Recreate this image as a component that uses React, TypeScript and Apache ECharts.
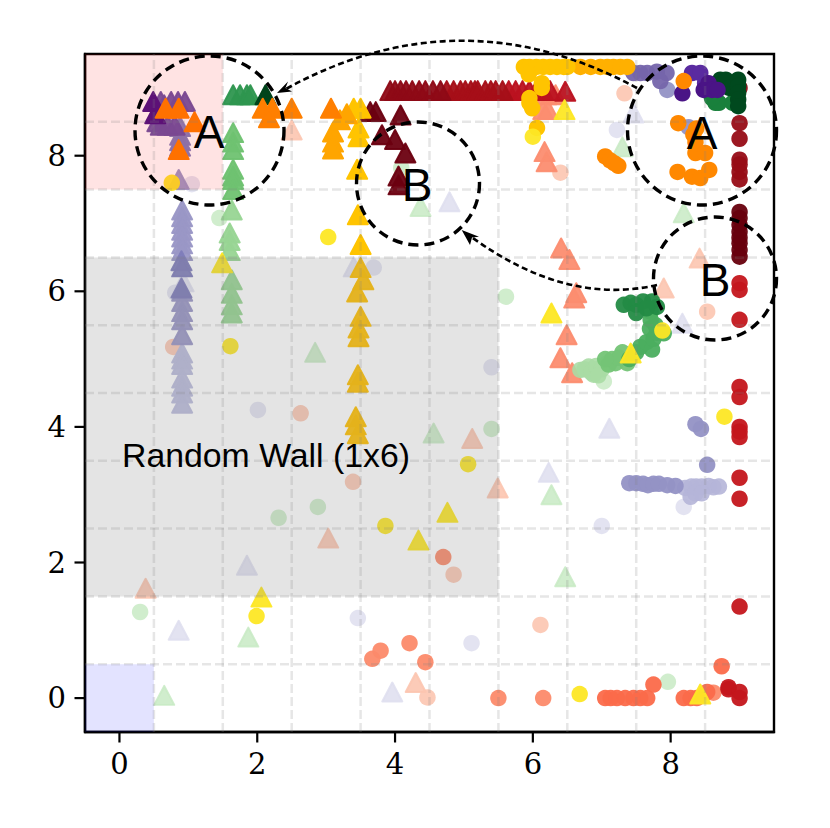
import React, { useEffect, useRef } from "react";
import * as echarts from "echarts";

type P = number[][];

const xTicks = [0, 2, 4, 6, 8];
const yTicks = [0, 2, 4, 6, 8];
const gridValues = [0.5, 1.5, 2.5, 3.5, 4.5, 5.5, 6.5, 7.5, 8.5];

const regionRandomWall = [-0.5, 1.5, 5.5, 6.5];
const regionPink = [-0.5, 7.5, 1.5, 9.5];
const regionBlue = [-0.5, -0.5, 0.5, 0.5];

// Triangles
const triPaleLavender: P = [[7.46, 8.63], [4.79, 7.32], [8.17, 5.53], [7.11, 3.98], [6.23, 3.33], [1.85, 1.96], [0.86, 1.0], [3.96, 0.09], [3.4, 6.36], [0.93, 6.14]];
const triPaleGreen: P = [[4.37, 7.25], [7.3, 8.13], [8.19, 7.16], [6.27, 3.0], [4.56, 3.91], [2.84, 5.1], [6.47, 1.79], [1.87, 0.9], [0.65, 0.04]];
const triPeach: P = [[2.5, 8.38], [7.9, 6.05], [8.42, 6.49], [5.12, 3.83], [5.49, 3.1], [3.03, 2.36], [0.38, 1.62], [4.3, 0.23]];
const triPurpleLight: P = [[0.91, 5.09], [0.91, 5.0], [0.91, 4.92], [0.91, 4.72], [0.91, 4.6], [0.91, 4.5], [0.91, 4.35]];
const triPurpleMid: P = [[0.86, 7.65], [0.91, 7.2], [0.91, 7.1], [0.91, 7.0], [0.91, 6.9], [0.91, 6.8], [0.91, 6.7], [0.91, 6.6], [0.91, 6.0], [0.91, 5.85], [0.91, 5.7], [0.91, 5.58], [0.91, 5.36]];
const triPurpleDeep: P = [[0.9, 6.45], [0.91, 6.36], [0.88, 8.43], [0.88, 8.3], [0.88, 8.22], [0.88, 8.14], [0.9, 6.05]];
const triPurpleTop: P = [[0.6, 8.8], [0.65, 8.75], [0.75, 8.8], [0.85, 8.8], [0.95, 8.8], [0.55, 8.5], [0.6, 8.45], [0.7, 8.45], [0.8, 8.45]];
const triPurpleDark: P = [[0.49, 8.8], [0.52, 8.62]];
const triGreenLight: P = [[1.6, 6.86], [1.6, 6.75], [1.6, 6.6], [1.63, 6.17], [1.63, 5.97], [1.63, 5.8], [1.63, 5.68], [1.63, 7.2]];
const triGreenMid: P = [[1.65, 7.8], [1.65, 7.7], [1.65, 7.65], [1.65, 7.5], [1.65, 8.34], [1.65, 8.2], [1.65, 8.09]];
const triGreenTop: P = [[1.65, 8.9], [1.75, 8.9], [1.85, 8.9], [1.9, 8.9]];
const triGreenDark: P = [[2.12, 8.9]];
const triRowDark: P = [[3.93, 8.96], [4.0, 8.96], [4.08, 8.96], [4.16, 8.96], [4.25, 8.96], [4.35, 8.96], [4.44, 8.96], [4.55, 8.96], [4.66, 8.96]];
const triRowMid: P = [[4.75, 8.96], [4.85, 8.96], [4.95, 8.96], [5.02, 8.96], [5.1, 8.96], [5.16, 8.96], [5.2, 8.96], [5.31, 8.96], [5.39, 8.96], [5.46, 8.96], [5.56, 8.96]];
const triRowRed: P = [[5.65, 8.96], [5.75, 8.96], [5.85, 8.96], [5.95, 8.96], [6.05, 8.96], [6.15, 8.96], [6.25, 8.96], [6.47, 8.95]];
const triMaroon: P = [[3.64, 8.65], [3.72, 8.65], [4.08, 8.6], [3.81, 8.31], [4.0, 8.24], [4.15, 8.04], [4.05, 7.7], [4.05, 7.57]];
const triSalmon: P = [[6.2, 8.9], [6.33, 8.9], [6.15, 8.68], [6.22, 8.68], [6.17, 8.06], [6.2, 7.91], [6.41, 6.64], [6.53, 6.47], [6.63, 5.98], [6.6, 5.9], [6.49, 5.36], [6.4, 5.02], [6.57, 4.8]];
const triGoldLow: P = [[3.43, 4.15], [3.43, 4.03], [3.46, 4.77], [3.46, 4.66], [3.5, 5.63], [3.47, 5.46], [3.47, 5.33], [3.45, 5.99], [3.54, 6.17], [3.5, 6.35], [3.46, 3.9]];
const triGold: P = [[3.5, 6.69], [3.46, 7.13], [3.45, 7.8], [3.47, 8.41], [3.47, 8.28], [3.4, 8.7], [3.5, 8.7]];
const triAmber: P = [[3.1, 8.35], [3.1, 8.2], [3.1, 8.1], [3.2, 8.53], [3.3, 8.62]];
const triOrange: P = [[0.67, 8.7], [0.86, 8.7], [1.09, 8.5], [0.86, 8.09], [2.08, 8.7], [2.22, 8.7], [2.17, 8.56], [2.5, 8.7], [3.07, 8.7]];
const triYellow: P = [[1.49, 6.42], [4.76, 2.74], [4.34, 2.33], [2.06, 1.49], [6.27, 5.68], [7.42, 5.09], [8.43, 0.06], [6.46, 8.68]];

// Circles
const dotPaleLavender: P = [[1.05, 7.58], [7.22, 8.38], [3.69, 6.35], [0.81, 5.98], [2.01, 4.25], [5.4, 4.88], [3.46, 1.18], [5.11, 0.81], [7.0, 2.54], [8.19, 2.82]];
const dotPaleGreen: P = [[5.61, 5.92], [5.4, 3.97], [2.88, 2.82], [2.31, 2.66], [0.3, 1.27], [1.45, 7.08], [4.09, 7.82], [7.96, 0.24], [7.03, 4.67]];
const dotPeach: P = [[7.33, 8.92], [6.4, 7.75], [8.53, 5.7], [0.78, 5.18], [2.63, 4.2], [3.39, 3.19], [4.85, 1.82], [4.47, 0.01], [6.11, 1.08]];
const dotSalmon: P = [[3.67, 0.58], [3.79, 0.7], [4.21, 0.81], [4.44, 0.53], [4.7, 2.08], [5.5, 0], [6.15, 0], [8.62, 0.08]];
const dotCoral: P = [[7.05, 0], [7.13, 0], [7.22, 0], [7.34, 0], [7.46, 0], [7.56, 0], [7.66, 0], [7.75, 0.2], [8.19, 0], [8.29, 0], [8.38, 0], [8.53, 0.09], [8.74, 0.47]];
const dotLavenderLight: P = [[8.21, 3.1], [8.3, 3.12], [8.37, 3.12], [8.45, 3.12], [8.55, 3.13], [8.62, 3.11], [8.7, 3.12], [8.29, 2.97], [8.36, 3.02], [8.45, 3.02]];
const dotLavender: P = [[7.4, 3.17], [7.5, 3.17], [7.6, 3.16], [7.67, 3.14], [7.75, 3.16], [7.83, 3.16], [7.95, 3.14], [8.07, 3.13], [8.36, 4.04], [8.44, 3.97], [8.53, 3.44], [7.95, 8.97], [8.26, 8.42]];
const dotRed: P = [[9, 6.12], [9, 6.02], [9, 5.58], [9, 4.59], [9, 4.44], [9, 4.0], [9, 3.93], [9, 3.85], [9, 3.25], [9, 2.94], [9, 1.35], [8.84, 0.16], [8.84, 0.13], [9, 0.09], [9, 0]];
const dotDarkRed: P = [[9, 9.0], [9, 8.48], [9, 8.25], [9, 7.94], [9, 7.87], [9, 7.76], [9, 7.65]];
const dotMaroon: P = [[9, 7.17], [9, 7.08], [9, 6.98], [9, 6.88], [9, 6.79], [9, 6.71], [9, 6.61], [9, 6.51]];
const dotGreenPale: P = [[7.08, 4.94], [6.96, 4.86], [6.81, 4.89], [6.69, 4.84], [6.88, 4.77], [6.75, 4.85], [6.85, 4.8], [6.92, 4.9], [7.0, 4.85], [6.95, 4.76]];
const dotGreenLight: P = [[7.37, 4.94], [7.3, 5.1], [7.2, 4.94], [7.15, 5.0], [7.1, 4.92], [7.25, 5.02], [7.05, 5.0]];
const dotGreenMid: P = [[7.4, 5.0], [7.5, 5.1], [7.56, 5.18], [7.65, 5.25], [7.73, 5.14], [7.75, 5.3], [7.8, 5.39], [7.9, 5.38], [7.7, 5.45], [7.78, 5.5], [7.71, 5.58], [7.71, 5.7]];
const dotGreen: P = [[7.32, 5.8], [7.42, 5.83], [7.5, 5.8], [7.6, 5.85], [7.73, 5.85], [7.8, 5.77], [7.5, 5.68], [7.65, 5.75]];
const dotGreenTop: P = [[8.65, 8.78], [8.7, 8.78], [8.9, 8.78], [8.55, 9.0], [8.6, 8.85]];
const dotGreenDark: P = [[8.72, 9.12], [8.8, 9.12], [8.85, 9.0], [8.98, 9.12], [8.98, 9.03], [8.98, 8.93], [8.98, 8.83], [8.98, 8.73]];
const dotPurpleSoft: P = [[7.46, 9.22], [7.56, 9.22], [7.66, 9.22], [7.8, 9.24], [7.94, 9.22], [7.85, 9.1]];
const dotPurple: P = [[8.31, 9.22], [8.43, 9.22], [8.5, 9.07]];
const dotPurpleDark: P = [[8.17, 8.92], [8.48, 8.97], [8.55, 9.07], [8.6, 8.97], [8.68, 8.97]];
const dotOrange: P = [[8.19, 9.1], [8.11, 8.48], [8.33, 8.31], [8.37, 8.4], [8.36, 8.2], [8.36, 8.04], [8.5, 8.04], [8.1, 7.76], [8.31, 7.69], [8.43, 7.67], [8.56, 7.79], [7.05, 7.99], [7.12, 7.93], [7.18, 7.89], [7.24, 7.85]];
const dotAmber: P = [[6.69, 9.31], [6.84, 9.31], [6.98, 9.31], [7.08, 9.31], [7.17, 9.31], [7.27, 9.31], [7.37, 9.31]];
const dotGold: P = [[5.87, 9.31], [5.95, 9.31], [6.05, 9.31], [6.15, 9.31], [6.25, 9.31], [6.35, 9.31], [6.45, 9.31], [6.5, 9.31], [5.94, 9.2], [6.13, 9.07], [6.13, 9.0], [5.95, 8.85], [5.99, 8.7], [5.95, 8.78], [6.06, 8.41]];
const dotYellow: P = [[6.0, 8.28], [3.03, 6.8], [0.76, 7.6], [1.61, 5.19], [3.86, 2.54], [5.06, 3.45], [7.88, 5.42], [8.78, 4.15], [1.99, 1.21], [6.68, 0.06]];

const labelA = "A";
const labelB = "B";
const labelWall = "Random Wall (1x6)";

const layers: [P, string, string, number][] = [
  [triPaleLavender, "triangle", "#dedeef", 0.85],
  [dotPaleLavender, "circle", "#dedeef", 0.85],
  [triPaleGreen, "triangle", "#c8eac4", 0.85],
  [dotPaleGreen, "circle", "#c8eac4", 0.85],
  [triPeach, "triangle", "#fcc5b0", 0.9],
  [dotPeach, "circle", "#fcc5b0", 0.9],
  [triPurpleLight, "triangle", "#bcbddc", 0.95],
  [triPurpleMid, "triangle", "#9a97c6", 0.95],
  [triPurpleDeep, "triangle", "#807dba", 0.95],
  [triPurpleTop, "triangle", "#6a51a3", 0.95],
  [triPurpleDark, "triangle", "#4a1486", 1],
  [triGreenLight, "triangle", "#98d594", 0.95],
  [triGreenMid, "triangle", "#6fc271", 0.95],
  [triGreenTop, "triangle", "#2e964f", 0.95],
  [triGreenDark, "triangle", "#00441b", 1],
  [triSalmon, "triangle", "#fc8d70", 0.95],
  [triRowRed, "triangle", "#bb1220", 0.95],
  [triRowMid, "triangle", "#a50f18", 0.95],
  [triRowDark, "triangle", "#8e0a16", 0.95],
  [triMaroon, "triangle", "#6b0010", 0.95],
  [dotSalmon, "circle", "#fc8a6a", 0.95],
  [dotCoral, "circle", "#fb6a4a", 0.95],
  [dotLavenderLight, "circle", "#b5b5d8", 0.9],
  [dotLavender, "circle", "#9492c5", 0.95],
  [dotRed, "circle", "#c4161c", 0.95],
  [dotDarkRed, "circle", "#970c16", 0.95],
  [dotMaroon, "circle", "#67000d", 0.95],
  [dotGreenPale, "circle", "#a8dca4", 0.9],
  [dotGreenLight, "circle", "#74c476", 0.95],
  [dotGreenMid, "circle", "#4bae5f", 0.95],
  [dotGreen, "circle", "#238b45", 0.95],
  [dotGreenTop, "circle", "#19803c", 1],
  [dotGreenDark, "circle", "#00491e", 1],
  [dotPurpleSoft, "circle", "#7565ab", 0.95],
  [dotPurple, "circle", "#5a2ba0", 1],
  [dotPurpleDark, "circle", "#4a1486", 1],
  [triGoldLow, "triangle", "#ffc000", 0.95],
  [triGold, "triangle", "#ffc400", 1],
  [triAmber, "triangle", "#ffa500", 1],
  [triOrange, "triangle", "#ff7f00", 1],
  [dotOrange, "circle", "#ff8800", 1],
  [dotAmber, "circle", "#ffb000", 1],
  [dotGold, "circle", "#ffc400", 1],
  [dotYellow, "circle", "#fde725", 0.95],
  [triYellow, "triangle", "#fde725", 0.95],
];

function rectSeries(box: number[], color: string) {
  return {
    type: "custom",
    z: 5,
    silent: true,
    clip: false,
    data: [box],
    encode: { x: [0, 2], y: [1, 3] },
    renderItem: (_: any, api: any) => {
      const a = api.coord([api.value(0), api.value(1)]);
      const b = api.coord([api.value(2), api.value(3)]);
      return {
        type: "rect",
        shape: { x: a[0], y: b[1], width: b[0] - a[0], height: a[1] - b[1] },
        style: { fill: color },
      };
    },
  };
}

function gridSeries(vertical: boolean) {
  return {
    type: "custom",
    z: 6,
    silent: true,
    clip: false,
    data: gridValues.map((v) => [v]),
    encode: vertical ? { x: 0 } : { y: 0 },
    renderItem: (_: any, api: any) => {
      const v = api.value(0);
      const a = vertical ? api.coord([v, -0.5]) : api.coord([-0.5, v]);
      const b = vertical ? api.coord([v, 9.5]) : api.coord([9.5, v]);
      return {
        type: "line",
        shape: { x1: a[0], y1: a[1], x2: b[0], y2: b[1] },
        style: { stroke: "rgba(128,128,128,0.2)", lineWidth: 2.5, lineDash: [9, 4] },
      };
    },
  };
}

const dashStyle = { stroke: "#000", fill: "none", lineWidth: 3.4, lineDash: [10, 6] };
const thinDash = { stroke: "#000", fill: "none", lineWidth: 2.6, lineDash: [6, 3.5] };

function letter(text: string, x: number, y: number) {
  return {
    type: "text",
    x,
    y,
    z: 30,
    style: { text, fill: "#000", font: "46px 'Liberation Sans'", textAlign: "center", textVerticalAlign: "middle" },
  };
}

export default function App() {
  const ref = useRef<HTMLDivElement>(null);
  useEffect(() => {
    const chart = echarts.init(ref.current!, undefined, { renderer: "svg", width: 830, height: 828 });
    const axisCommon = {
      type: "value",
      min: -0.5,
      max: 9.5,
      splitLine: { show: false },
      axisTick: { show: false },
      axisLine: { show: true, onZero: false, lineStyle: { color: "#000", width: 2.4 } },
    };
    chart.setOption({
      animation: false,
      backgroundColor: "#fff",
      grid: { left: 85, right: 56, top: 54, bottom: 96, show: true, borderColor: "#000", borderWidth: 2.4, backgroundColor: "transparent" },
      xAxis: {
        ...axisCommon,
        axisLabel: { show: true, customValues: xTicks, fontFamily: "DejaVu Serif", fontSize: 29, color: "#000", margin: 17, formatter: (v: number) => String(v) },
      },
      yAxis: {
        ...axisCommon,
        axisLabel: { show: true, customValues: yTicks, fontFamily: "DejaVu Serif", fontSize: 29, color: "#000", margin: 19, formatter: (v: number) => String(v) },
      },
      series: [
        ...layers.map(([data, symbol, color, opacity]) => ({
          type: "scatter",
          z: 2,
          silent: true,
          clip: false,
          data,
          symbol,
          symbolSize: symbol === "circle" ? 16.5 : [20, 19],
          itemStyle:
            symbol === "circle"
              ? { color, opacity }
              : { color, opacity, borderColor: color, borderWidth: 2, borderJoin: "round" },
        })),
        rectSeries(regionRandomWall, "rgba(128,128,128,0.21)"),
        rectSeries(regionPink, "rgba(255,0,0,0.11)"),
        rectSeries(regionBlue, "rgba(0,0,255,0.11)"),
        gridSeries(true),
        gridSeries(false),
      ],
    });
    const xTickBars = xTicks.map((v) => {
      const p = chart.convertToPixel({ gridIndex: 0 }, [v, -0.5]);
      return { type: "rect", z: 25, shape: { x: p[0] - 1.1, y: p[1], width: 2.2, height: 10.5 }, style: { fill: "#000" } };
    });
    const yTickBars = yTicks.map((v) => {
      const p = chart.convertToPixel({ gridIndex: 0 }, [-0.5, v]);
      return { type: "rect", z: 25, shape: { x: p[0] - 10.5, y: p[1] - 1.1, width: 10.5, height: 2.2 }, style: { fill: "#000" } };
    });
    chart.setOption({
      graphic: [
        ...xTickBars,
        ...yTickBars,
        { type: "circle", z: 20, shape: { cx: 209.5, cy: 130.5, r: 74.5 }, style: dashStyle },
        { type: "circle", z: 20, shape: { cx: 702, cy: 130.5, r: 74.5 }, style: dashStyle },
        { type: "circle", z: 20, shape: { cx: 418, cy: 183.5, r: 61.5 }, style: dashStyle },
        { type: "circle", z: 20, shape: { cx: 715, cy: 278.5, r: 61.5 }, style: dashStyle },
        { type: "bezierCurve", z: 20, shape: { x1: 637, y1: 88, cpx1: 460, cpy1: -7.5, x2: 284, y2: 90 }, style: thinDash },
        { type: "polygon", z: 21, shape: { points: [[277, 93], [288, 81.5], [285.5, 88], [292, 91.5]] }, style: { fill: "#000" } },
        { type: "bezierCurve", z: 20, shape: { x1: 657, y1: 285, cpx1: 566, cpy1: 306, x2: 470, y2: 236 }, style: thinDash },
        { type: "polygon", z: 21, shape: { points: [[461.7, 230], [479, 236.7], [472, 237.5], [470, 245]] }, style: { fill: "#000" } },
        letter(labelA, 209, 132),
        letter(labelA, 702, 133),
        letter(labelB, 417, 185),
        letter(labelB, 715, 280),
        {
          type: "text",
          x: 122,
          y: 455,
          z: 30,
          style: { text: labelWall, fill: "#000", font: "33.8px 'Liberation Sans'", textAlign: "left", textVerticalAlign: "middle" },
        },
      ],
    });
    return () => chart.dispose();
  }, []);
  return <div ref={ref} style={{ position: "absolute", left: 0, top: 0, width: 830, height: 828 }} />;
}
